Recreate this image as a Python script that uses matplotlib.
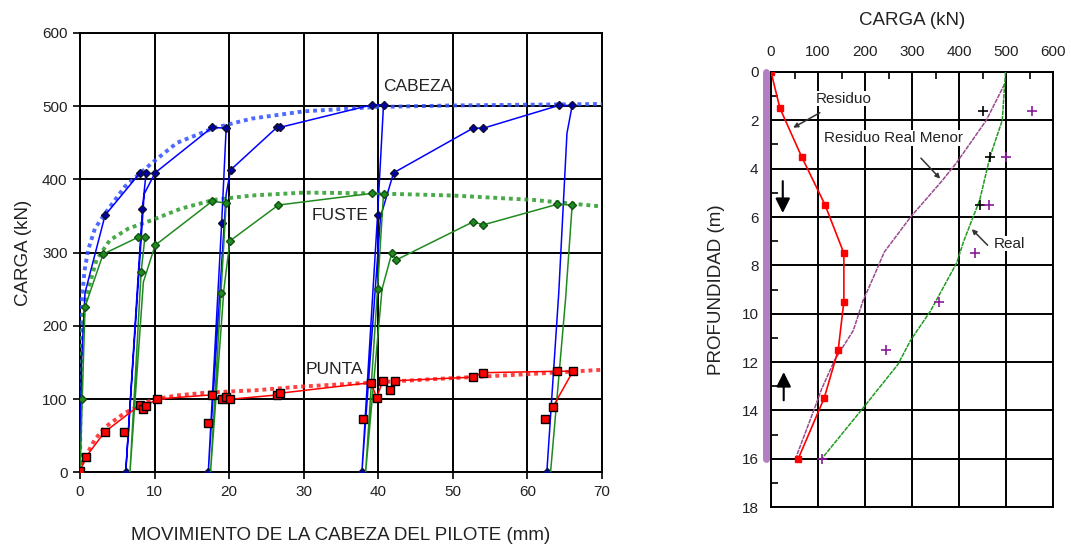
import matplotlib
matplotlib.use("Agg")
import matplotlib.pyplot as plt

plt.rcParams["font.family"] = ["Liberation Sans", "DejaVu Sans"]

# ---- left panel: load vs pile head movement (cyclic test) ----
cab_x = [0, 0.2, 0.67, 3.36, 8.05, 8.86, 8.37, 6.13, 8.6, 10.07, 17.7, 19.6, 19.0, 17.2,
         19.6, 20.2, 26.4, 26.8, 39.2, 40.7, 39.9, 37.8, 40.3, 42.05, 52.7, 54.1, 64.2,
         66.0, 65.3, 64.2, 62.6]
cab_y = [0, 150, 245, 351, 409, 409, 360, 0, 380, 409, 471, 470, 341, 0,
         380, 413, 471, 471, 502, 502, 351, 0, 349, 409, 470, 470, 501,
         501, 463, 245, 0]
cab_mk = [0, 3, 4, 5, 6, 7, 9, 10, 11, 12, 13, 15, 16, 17, 18, 19, 20, 21, 23, 24, 25, 26, 27, 30]

fus_x = [0, 0.3, 0.67, 3.1, 7.8, 8.7, 8.2, 6.7, 8.5, 10.07, 17.7, 19.6, 18.9, 17.5,
         19.3, 20.1, 26.6, 39.2, 40.7, 39.9, 38.3, 40.5, 41.8, 42.4, 52.7, 54.1, 64.0,
         66.0, 65.1, 63.1]
fus_y = [0, 100, 226, 298, 321, 321, 274, 0, 260, 310, 370, 368, 245, 0,
         250, 316, 365, 381, 380, 251, 0, 250, 299, 290, 342, 338, 366,
         365, 235, 0]
fus_mk = [0, 1, 2, 3, 4, 5, 6, 9, 10, 11, 12, 15, 16, 17, 18, 19, 22, 23, 24, 25, 26, 27]

pun_x = [0, 0.8, 3.3, 8.05, 8.4, 8.9, 10.3, 17.7, 19.0, 19.6, 20.1, 26.4, 26.8, 39.0,
         39.8, 40.6, 41.6, 42.3, 52.7, 54.0, 64.0, 66.1, 63.4]
pun_y = [2, 21, 55, 92, 86, 91, 100, 105.8, 99.7, 103, 99.7, 105.6, 108, 122.4,
         102, 125, 113, 125, 130, 136, 138, 138, 89]
pun_unl_x = [5.95, 17.2, 37.9, 62.4]
pun_unl_y = [55, 67, 73, 73]

cab_fit_x = [0, 0.03, 0.1, 0.25, 0.6, 1.1, 2.0, 3.4, 6.0, 9.6, 13, 17.9, 23, 30, 40, 50, 60, 70]
cab_fit_y = [0, 100, 180, 235, 275, 304, 333, 354, 390, 422, 450, 470, 483, 493, 499, 501, 502, 503]
fus_fit_x = [0, 0.05, 0.2, 0.5, 1.1, 2.2, 4.0, 6.5, 9.8, 13.5, 17.9, 23, 30, 39, 50, 60.8, 70]
fus_fit_y = [0, 100, 180, 220, 249, 290, 317, 333, 345, 360, 372, 378, 382, 381, 378, 372, 363]
pun_fit_x = [0, 0.3, 1.1, 2.0, 3.4, 6.0, 9.6, 13, 17.2, 23.5, 29.5, 40, 48.8, 60, 70]
pun_fit_y = [0, 12, 28, 45, 62, 81, 99, 105, 109, 112, 117, 123, 128, 134, 140]

# ---- right panel: load distribution with depth ----
res_load = [0, 19, 65, 115, 155, 155, 143, 113, 58]
res_depth = [0, 1.5, 3.5, 5.5, 7.5, 9.5, 11.5, 13.5, 16]
menor_load = [497, 458, 395, 364, 297, 241, 220, 196, 175, 136, 108, 91, 56, 54]
menor_depth = [0.5, 2.0, 3.75, 4.5, 6.0, 7.45, 8.4, 9.45, 10.7, 11.9, 13.1, 14.0, 15.8, 16]
real_load = [499, 492, 466, 444, 410, 395, 339, 297, 270, 196, 108]
real_depth = [0, 2, 3.5, 5.3, 7.0, 7.9, 9.9, 11.1, 12.1, 13.9, 16]
meas_blk_load = [452, 466, 444]
meas_blk_depth = [1.6, 3.5, 5.5]
meas_pur_load = [556, 501, 464, 434, 358, 245, 108]
meas_pur_depth = [1.6, 3.5, 5.5, 7.5, 9.5, 11.5, 16]

TXT = "#222222"
BLUE, GREEN, RED = "#0000ff", "#1f8a1f", "#ff0000"

fig = plt.figure(figsize=(10.71, 5.45), dpi=100)
ax = fig.add_axes([0.0747, 0.1334, 0.4874, 0.8061])
ax2 = fig.add_axes([0.7199, 0.0697, 0.2633, 0.7982])

# left
ax.plot(cab_fit_x, cab_fit_y, ls=(0, (1, 1)), lw=2.8, color="#3050ff", alpha=0.85, zorder=3)
ax.plot(fus_fit_x, fus_fit_y, ls=(0, (1, 1)), lw=2.8, color="#2a9a2a", alpha=0.85, zorder=3)
ax.plot(pun_fit_x, pun_fit_y, ls=(0, (1, 1)), lw=2.8, color="#ff2020", alpha=0.85, zorder=3)
ax.plot(cab_x, cab_y, color=BLUE, lw=1.1, marker="D", ms=4, mfc="#0000aa", mec="#101030",
        markevery=cab_mk, zorder=4)
ax.plot(fus_x, fus_y, color=GREEN, lw=1.1, marker="D", ms=4, mfc="#1f8a1f", mec="#145014",
        markevery=fus_mk, zorder=4)
ax.plot(pun_x, pun_y, color=RED, lw=1.1, marker="s", ms=5.5, mfc=RED, mec="black", mew=1,
        zorder=5)
ax.plot(pun_unl_x, pun_unl_y, ls="none", marker="s", ms=5.5, mfc=RED, mec="black", mew=1,
        zorder=5)

ax.text(40.7, 527, "CABEZA", fontsize=12.5, color=TXT, va="center")
ax.text(31.0, 351, "FUSTE", fontsize=12.5, color=TXT, va="center")
ax.text(30.3, 141, "PUNTA", fontsize=12.5, color=TXT, va="center")

ax.set_xlim(0, 70)
ax.set_ylim(0, 600)
ax.set_xticks(range(0, 71, 10))
ax.set_yticks(range(0, 601, 100))
ax.grid(True, color="black", lw=1.4)
ax.set_axisbelow(True)
for s in ax.spines.values():
    s.set_linewidth(1.4)
ax.tick_params(direction="out", length=5, width=1.2, labelsize=11, colors="black",
               labelcolor=TXT, pad=4)
ax.set_xlabel("MOVIMIENTO DE LA CABEZA DEL PILOTE (mm)", fontsize=13.5, color=TXT, labelpad=20)
ax.set_ylabel("CARGA (kN)", fontsize=13.5, color=TXT, labelpad=7)

# right
ax2.plot(menor_load, menor_depth, color="#9a4a8e", lw=1.1, ls=(0, (3, 0.6)), zorder=3)
ax2.plot(real_load, real_depth, color="#1f9a1f", lw=1.1, ls=(0, (3, 0.6)), zorder=3)
ax2.plot(res_load, res_depth, color=RED, lw=1.2, marker="s", ms=4.5, zorder=4)
ax2.plot(meas_blk_load, meas_blk_depth, ls="none", marker="+", ms=7, mew=1.2, color="black", zorder=5)
ax2.plot(meas_pur_load, meas_pur_depth, ls="none", marker="+", ms=7, mew=1.2, color="#8b1a9b", zorder=5)
ax2.plot([-10, -10], [0, 16], color="#b47ec4", lw=5, solid_capstyle="round", clip_on=False, zorder=6)

bb = dict(facecolor="white", edgecolor="none", pad=0.5)
ax2.text(155, 1.1, "Residuo", fontsize=11, color=TXT, ha="center", va="center", bbox=bb)
ax2.text(260, 2.73, "Residuo Real Menor", fontsize=11, color=TXT, ha="center", va="center", bbox=bb)
ax2.text(508, 7.1, "Real", fontsize=11, color=TXT, ha="center", va="center", bbox=bb)
ax2.annotate("", xy=(42, 2.36), xytext=(109, 1.63),
             arrowprops=dict(arrowstyle="-|>", color="#333333", lw=1.1, mutation_scale=7))
ax2.annotate("", xy=(364, 4.5), xytext=(315, 3.48),
             arrowprops=dict(arrowstyle="-|>", color="#333333", lw=1.1, mutation_scale=7))
ax2.annotate("", xy=(423, 6.42), xytext=(465, 7.25),
             arrowprops=dict(arrowstyle="-|>", color="#333333", lw=1.1, mutation_scale=7))
ax2.annotate("", xy=(25, 5.95), xytext=(25, 4.4),
             arrowprops=dict(arrowstyle="-|>", color="black", lw=1.5, mutation_scale=22))
ax2.annotate("", xy=(27, 12.3), xytext=(27, 13.7),
             arrowprops=dict(arrowstyle="-|>", color="black", lw=1.5, mutation_scale=22))

ax2.set_xlim(0, 600)
ax2.set_ylim(18, 0)
ax2.set_xticks(range(0, 601, 100))
ax2.set_xticks(range(50, 600, 100), minor=True)
ax2.set_yticks(range(0, 19, 2))
ax2.set_yticks(range(1, 18, 2), minor=True)
ax2.xaxis.tick_top()
ax2.xaxis.set_label_position("top")
ax2.grid(True, which="major", color="black", lw=1.4)
ax2.set_axisbelow(True)
for s in ax2.spines.values():
    s.set_linewidth(1.4)
ax2.tick_params(which="major", direction="in", length=0, labelsize=11, labelcolor=TXT, pad=9)
ax2.tick_params(which="minor", direction="in", length=5, width=1.2, colors="black")
ax2.tick_params(axis="x", which="both", bottom=False, top=True)
ax2.tick_params(axis="y", which="both", left=True, right=False)
ax2.set_xlabel("CARGA (kN)", fontsize=13.5, color=TXT, labelpad=15)
ax2.set_ylabel("PROFUNDIDAD (m)", fontsize=13.5, color=TXT, labelpad=12)

fig.savefig("out.png", dpi=100)
plt.close(fig)
